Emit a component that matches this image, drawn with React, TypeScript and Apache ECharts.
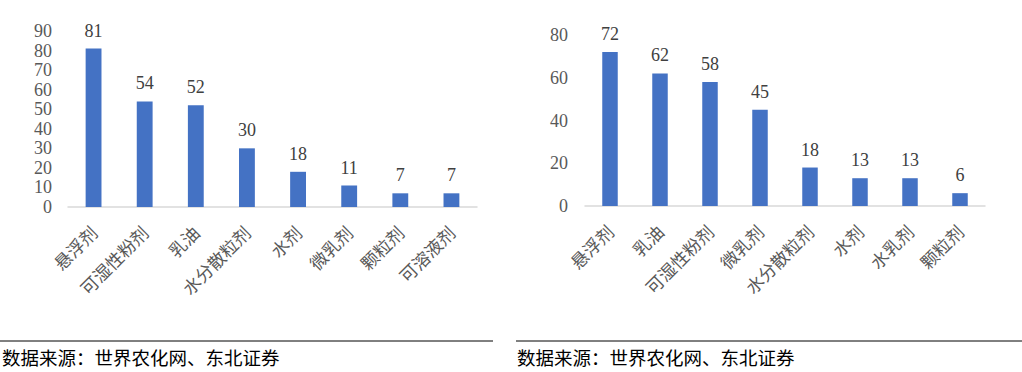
import React, { useEffect, useRef } from "react";
import * as echarts from "echarts";

const leftCategories = ["悬浮剂", "可湿性粉剂", "乳油", "水分散粒剂", "水剂", "微乳剂", "颗粒剂", "可溶液剂"];
const leftValues = [81, 54, 52, 30, 18, 11, 7, 7];
const rightCategories = ["悬浮剂", "乳油", "可湿性粉剂", "微乳剂", "水分散粒剂", "水剂", "水乳剂", "颗粒剂"];
const rightValues = [72, 62, 58, 45, 18, 13, 13, 6];
const sourceText = "数据来源：世界农化网、东北证券";

const serif = "'Liberation Serif', 'Times New Roman', 'Noto Sans CJK SC', serif";
const BAR = "#4472C4";

export default function App() {
  const ref = useRef<HTMLDivElement>(null);
  useEffect(() => {
    if (!ref.current) return;
    const chart = echarts.init(ref.current, null, { renderer: "svg" });
    const xAxisCommon = {
      type: "category" as const,
      axisLine: { lineStyle: { color: "#d9d9d9", width: 1.5 } },
      axisTick: { show: false },
      axisLabel: {
        rotate: 45,
        interval: 0,
        fontSize: 17.5,
        color: "#595959",
        fontFamily: "'Noto Sans CJK SC', sans-serif",
        margin: 22,
      },
    };
    const yAxisCommon = {
      type: "value" as const,
      min: 0,
      splitLine: { show: false },
      axisLine: { show: false },
      axisTick: { show: false },
      axisLabel: { fontSize: 18, color: "#595959", fontFamily: serif, margin: 16 },
    };
    const seriesCommon = {
      type: "bar" as const,
      barWidth: "31%",
      itemStyle: { color: BAR },
      label: {
        show: true,
        position: "top" as const,
        distance: 9,
        fontSize: 18,
        color: "#404040",
        fontFamily: serif,
      },
    };
    chart.setOption({
      animation: false,
      grid: [
        { left: 68, right: 545, top: 31, bottom: 165, containLabel: false },
        { left: 585, right: 37, top: 35, bottom: 166, containLabel: false },
      ],
      xAxis: [
        { ...xAxisCommon, gridIndex: 0, data: leftCategories },
        { ...xAxisCommon, gridIndex: 1, data: rightCategories },
      ],
      yAxis: [
        { ...yAxisCommon, gridIndex: 0, max: 90, interval: 10, axisLabel: { ...yAxisCommon.axisLabel, margin: 16 } },
        { ...yAxisCommon, gridIndex: 1, max: 80, interval: 20, axisLabel: { ...yAxisCommon.axisLabel, margin: 17 } },
      ],
      series: [
        { ...seriesCommon, xAxisIndex: 0, yAxisIndex: 0, data: leftValues },
        { ...seriesCommon, xAxisIndex: 1, yAxisIndex: 1, data: rightValues },
      ],
      graphic: [
        { type: "line", shape: { x1: 0, y1: 341, x2: 493, y2: 341 }, style: { stroke: "#000", lineWidth: 1 } },
        { type: "line", shape: { x1: 516, y1: 341, x2: 1022, y2: 341 }, style: { stroke: "#000", lineWidth: 1 } },
        {
          type: "text",
          x: 2,
          y: 357,
          style: { text: sourceText, fontSize: 18.5, fill: "#000", fontFamily: "'Noto Sans CJK SC', sans-serif", verticalAlign: "middle" },
        },
        {
          type: "text",
          x: 517,
          y: 357,
          style: { text: sourceText, fontSize: 18.5, fill: "#000", fontFamily: "'Noto Sans CJK SC', sans-serif", verticalAlign: "middle" },
        },
      ],
    });
    return () => chart.dispose();
  }, []);
  return (
    <div
      ref={ref}
      style={{ position: "fixed", left: 0, top: 0, width: 1022, height: 372, background: "#fff" }}
    />
  );
}
